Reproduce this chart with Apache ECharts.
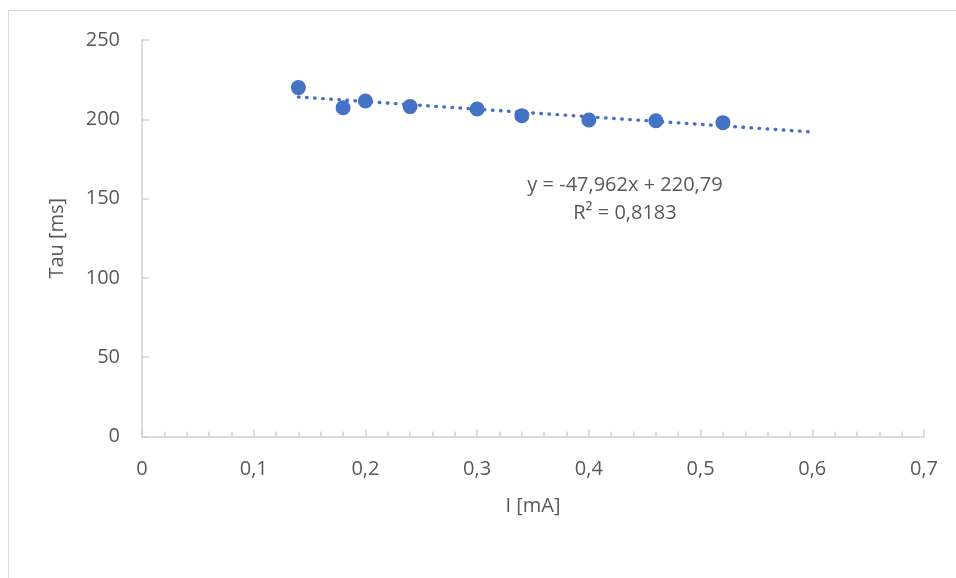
<!DOCTYPE html>
<html>
<head>
<meta charset="utf-8">
<script src="https://cdn.jsdelivr.net/npm/echarts@6/dist/echarts.min.js"></script>
<style>
  html, body { margin: 0; padding: 0; background: #fff; }
  #chart { width: 956px; height: 578px; }
</style>
</head>
<body>
<div id="chart"></div>
<script>
// measured current vs. time constant
const currentMA = [0.14, 0.18, 0.20, 0.24, 0.30, 0.34, 0.40, 0.46, 0.52];
const tauMs = [220, 207.3, 211.5, 208, 206.5, 202.3, 199.6, 199.1, 197.9];

// linear trendline as printed on the chart
const SLOPE = -47.962;
const INTERCEPT = 220.79;
const R2 = 0.8183;
const trendRange = [0.14, 0.6];

const TEXT = "#595959";
const AXIS = "#d0d0d0";
const BLUE = "#4472C4";
const FONT = "'Open Sans', 'Liberation Sans', sans-serif";

const comma = (v, d) => String(+v.toFixed(d)).replace(".", ",");

const points = currentMA.map((x, i) => [x, tauMs[i]]);
const trend = trendRange.map(x => [x, SLOPE * x + INTERCEPT]);

const chart = echarts.init(document.getElementById("chart"), null, { renderer: "canvas" });

chart.setOption({
  backgroundColor: "#fff",
  animation: false,
  textStyle: { fontFamily: FONT, color: TEXT },
  grid: { left: 142, right: 32, top: 40, bottom: 141.5 },
  xAxis: {
    type: "value",
    min: 0,
    max: 0.7,
    interval: 0.1,
    name: "I [mA]",
    nameLocation: "middle",
    nameGap: 60,
    nameTextStyle: { color: TEXT, fontSize: 20, fontFamily: FONT },
    axisLine: { show: true, lineStyle: { color: AXIS, width: 1.5 } },
    axisTick: { show: true, inside: true, length: 7, lineStyle: { color: AXIS, width: 1.5 } },
    minorTick: { show: true, splitNumber: 5, length: 5, lineStyle: { color: AXIS, width: 1.5 } },
    splitLine: { show: false },
    axisLabel: {
      color: TEXT, fontSize: 20, fontFamily: FONT, margin: 23,
      formatter: v => comma(v, 1),
    },
  },
  yAxis: {
    type: "value",
    min: 0,
    max: 250,
    interval: 50,
    name: "Tau [ms]",
    nameLocation: "middle",
    nameGap: 75,
    nameTextStyle: { color: TEXT, fontSize: 20, fontFamily: FONT },
    axisLine: { show: true, lineStyle: { color: AXIS, width: 1.5 } },
    axisTick: { show: true, inside: true, length: 7, lineStyle: { color: AXIS, width: 1.5 } },
    splitLine: { show: false },
    axisLabel: { color: TEXT, fontSize: 20, fontFamily: FONT, margin: 22 },
  },
  series: [
    {
      type: "line",
      data: trend,
      symbol: "none",
      silent: true,
      z: 1,
      lineStyle: { color: BLUE, width: 3.4, type: [0.6, 7.5], cap: "round" },
    },
    {
      type: "scatter",
      data: points,
      symbol: "circle",
      symbolSize: 15,
      z: 2,
      itemStyle: { color: BLUE, opacity: 1 },
    },
  ],
  graphic: [
    {
      type: "rect",
      shape: { x: 8.5, y: 10.5, width: 1200, height: 1200 },
      style: { fill: "none", stroke: "#d9d9d9", lineWidth: 1 },
      silent: true,
    },
    {
      type: "text",
      x: 625,
      y: 199,
      style: {
        text: "y = " + comma(SLOPE, 3) + "x + " + comma(INTERCEPT, 2) + "\nR² = " + comma(R2, 4),
        fill: TEXT,
        font: "20px " + FONT,
        align: "center",
        verticalAlign: "middle",
        lineHeight: 28,
      },
    },
  ],
});
</script>
</body>
</html>
